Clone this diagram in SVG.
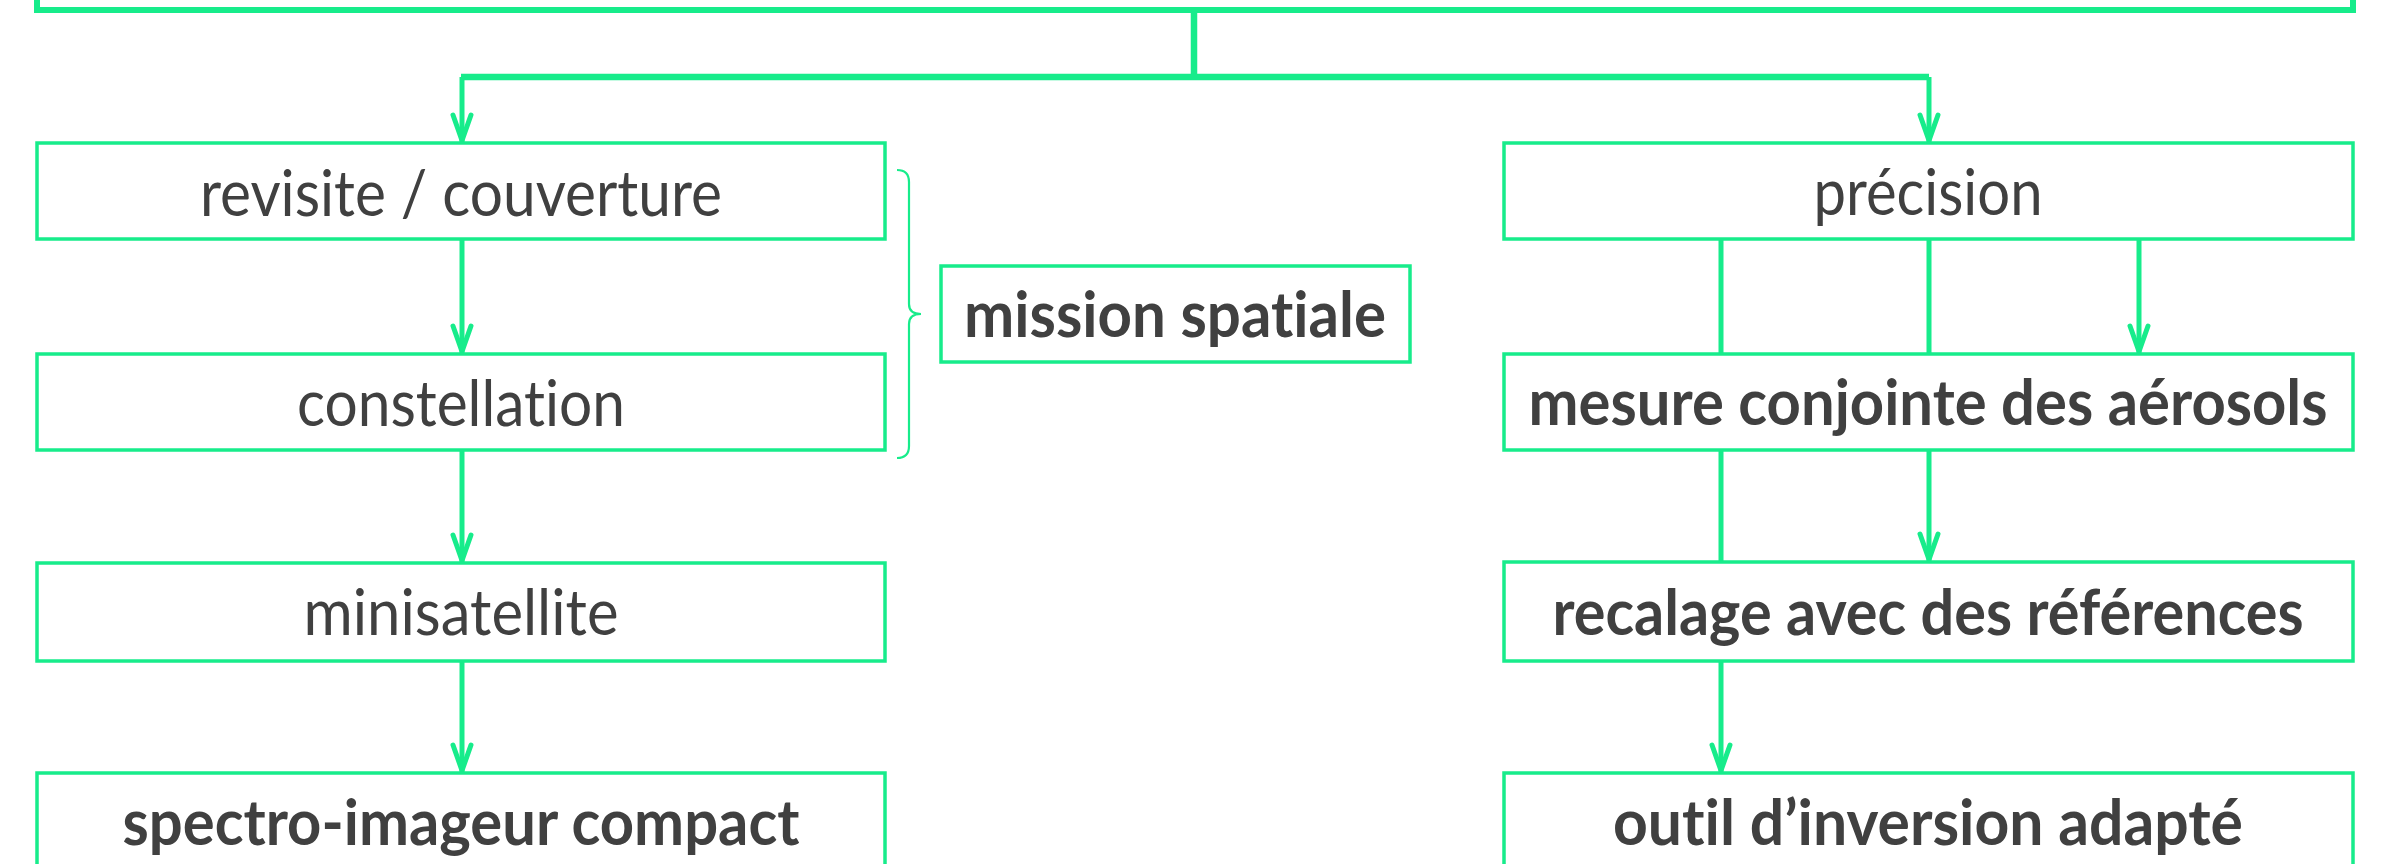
<svg xmlns="http://www.w3.org/2000/svg" width="2393" height="864" viewBox="0 0 2393 864">
  <style>
    .box { fill: #ffffff; stroke: #17ec8b; stroke-width: 3.5; }
    .top { fill: #ffffff; stroke: #17ec8b; stroke-width: 6; }
    .bus { fill: none; stroke: #17ec8b; stroke-width: 6.5; stroke-linejoin: miter; }
    .arrow { fill: none; stroke: #17ec8b; stroke-width: 5; marker-end: url(#head); }
    .brace { fill: none; stroke: #17ec8b; stroke-width: 2.2; }
    .lbl { font-family: Lato, "Open Sans", "Liberation Sans", sans-serif; font-size: 64px; fill: #404040; text-anchor: middle; font-variant-ligatures: none; font-feature-settings: "liga" 0; }
    .b { font-weight: bold; }
  </style>
  <defs>
    <marker id="head" markerUnits="userSpaceOnUse" viewBox="-32 -12 34 24" refX="0" refY="0" markerWidth="34" markerHeight="24" orient="auto" overflow="visible">
      <path d="M-28,-9 L-2.5,0 L-28,9" fill="none" stroke="#17ec8b" stroke-width="5" stroke-linejoin="round" stroke-linecap="round"/>
    </marker>
  </defs>

  <!-- connectors, drawn first so boxes sit on top -->
  <g id="connectors">
    <path class="bus" d="M1194,10 V77 M461,77 H1929"/>
    <path class="arrow" d="M462,77 V143"/>
    <path class="arrow" d="M1929,77 V143"/>
    <path class="arrow" d="M462,239 V354"/>
    <path class="arrow" d="M462,450 V563"/>
    <path class="arrow" d="M462,661 V773"/>
    <path class="arrow" d="M2139,239 V354"/>
    <path class="arrow" d="M1929,239 V562"/>
    <path class="arrow" d="M1721,239 V773"/>
    <path class="brace" d="M897,170 Q909,170 909,182 L909,304 Q909,314 921,314 Q909,314 909,324 L909,446 Q909,458 897,458"/>
  </g>

  <g id="root">
    <rect class="top" x="37" y="-60" width="2316" height="70"/>
  </g>

  <g id="revisite">
    <rect class="box" x="37" y="143" width="848" height="96"/>
    <text class="lbl" x="461" y="216" textLength="522" lengthAdjust="spacingAndGlyphs">revisite / couverture</text>
  </g>
  <g id="constellation">
    <rect class="box" x="37" y="354" width="848" height="96"/>
    <text class="lbl" x="461" y="426" textLength="328" lengthAdjust="spacingAndGlyphs">constellation</text>
  </g>
  <g id="minisatellite">
    <rect class="box" x="37" y="563" width="848" height="98"/>
    <text class="lbl" x="461" y="635" textLength="315" lengthAdjust="spacingAndGlyphs">minisatellite</text>
  </g>
  <g id="spectro">
    <rect class="box" x="37" y="773" width="848" height="140"/>
    <text class="lbl b" x="461" y="845" textLength="677" lengthAdjust="spacingAndGlyphs">spectro-imageur compact</text>
  </g>
  <g id="mission">
    <rect class="box" x="941" y="266" width="469" height="96"/>
    <text class="lbl b" x="1175" y="337" textLength="422" lengthAdjust="spacingAndGlyphs">mission spatiale</text>
  </g>

  <g id="precision">
    <rect class="box" x="1504" y="143" width="849" height="96"/>
    <text class="lbl" x="1928" y="215" textLength="229" lengthAdjust="spacingAndGlyphs">précision</text>
  </g>
  <g id="aerosols">
    <rect class="box" x="1504" y="354" width="849" height="96"/>
    <text class="lbl b" x="1928" y="425" textLength="799" lengthAdjust="spacingAndGlyphs">mesure conjointe des aérosols</text>
  </g>
  <g id="recalage">
    <rect class="box" x="1504" y="562" width="849" height="99"/>
    <text class="lbl b" x="1928" y="635" textLength="751" lengthAdjust="spacingAndGlyphs">recalage avec des références</text>
  </g>
  <g id="inversion">
    <rect class="box" x="1504" y="773" width="849" height="140"/>
    <text class="lbl b" x="1928" y="845" textLength="630" lengthAdjust="spacingAndGlyphs">outil d’inversion adapté</text>
  </g>
</svg>
